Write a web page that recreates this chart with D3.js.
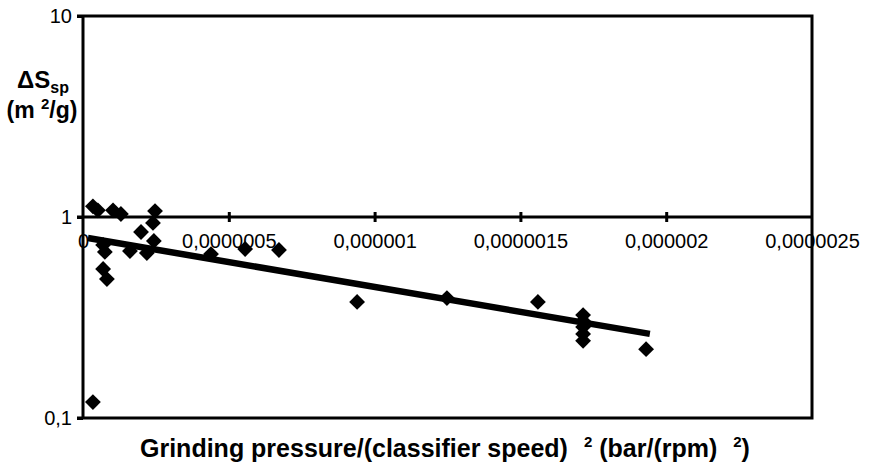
<!DOCTYPE html>
<html>
<head>
<meta charset="utf-8">
<script src="https://cdn.jsdelivr.net/npm/d3@7"></script>
<style>
    body { margin: 0; background: #fff; }
    text { font-family: "Liberation Sans", Arial, sans-serif; fill: #000; }
</style>
</head>
<body>
<div id="chart"></div>
<script>
// measured points: grinding pressure / (classifier speed)^2 vs delta S_sp
const pressure = [
    3.4e-8, 5.1e-8, 1.03e-7, 1.30e-7, 2.47e-7, 2.40e-7, 1.99e-7, 2.43e-7,
    6.9e-8, 7.5e-8, 1.61e-7, 2.19e-7, 6.9e-8, 8.2e-8, 3.4e-8,
    4.39e-7, 5.56e-7, 6.72e-7, 9.40e-7, 1.248e-6, 1.560e-6,
    1.715e-6, 1.715e-6, 1.715e-6, 1.715e-6, 1.715e-6, 1.931e-6
];
const deltaS = [
    1.13, 1.08, 1.08, 1.035, 1.07, 0.934, 0.842, 0.760,
    0.726, 0.670, 0.677, 0.662, 0.551, 0.491, 0.120,
    0.654, 0.693, 0.685, 0.378, 0.395, 0.378,
    0.325, 0.304, 0.284, 0.262, 0.242, 0.220
];

// exponential trendline, start and end
const trendX = [1.7e-8, 1.944e-6];
const trendY = [0.786, 0.262];

const xTicks = [0, 5e-7, 1e-6, 1.5e-6, 2e-6, 2.5e-6];
const xTickLabels = ["0", "0,0000005", "0,000001", "0,0000015", "0,000002", "0,0000025"];
const yTicks = [0.1, 1, 10];
const yTickLabels = ["0,1", "1", "10"];

const width = 873, height = 467;
const plotLeft = 83, plotRight = 812, plotTop = 16, plotBottom = 418;

const svg = d3.select("#chart").append("svg")
    .attr("width", width)
    .attr("height", height);

const x = d3.scaleLinear().domain([0, 2.5e-6]).range([plotLeft, plotRight]);
const y = d3.scaleLog().domain([0.1, 10]).range([plotBottom, plotTop]);

// frame (top, right, bottom)
svg.append("path")
    .attr("d", `M${plotLeft - 6},${plotTop}H${plotRight}V${plotBottom}H${plotLeft - 6}`)
    .attr("fill", "none")
    .attr("stroke", "#000")
    .attr("stroke-width", 3);

const yAxis = d3.axisLeft(y)
    .tickValues(yTicks)
    .tickFormat((d, i) => yTickLabels[i])
    .tickSize(6)
    .tickPadding(5);

const gy = svg.append("g")
    .attr("transform", `translate(${plotLeft},0)`)
    .call(yAxis);
gy.select(".domain").attr("stroke-width", 3).attr("d", `M0,${plotTop}V${plotBottom}`);
gy.selectAll(".tick line").attr("stroke-width", 3);
gy.selectAll(".tick text")
    .attr("font-size", 20)
    .attr("font-family", "Liberation Sans, Arial, sans-serif");

// x axis crosses at y = 1
const xAxis = d3.axisBottom(x)
    .tickValues(xTicks)
    .tickFormat((d, i) => xTickLabels[i])
    .tickSize(0)
    .tickPadding(17);

const gx = svg.append("g")
    .attr("transform", `translate(0,${y(1)})`)
    .call(xAxis);
gx.select(".domain").attr("stroke-width", 3).attr("d", `M${plotLeft - 6},0H${plotRight}`);
gx.selectAll(".tick text")
    .attr("font-size", 20)
    .attr("font-family", "Liberation Sans, Arial, sans-serif");
gx.selectAll(".tick")
    .filter(d => d > 0 && d < 2.5e-6)
    .append("line")
    .attr("y1", -5)
    .attr("y2", 5)
    .attr("stroke", "#000")
    .attr("stroke-width", 3);

// points
const diamond = d3.symbol(d3.symbolSquare, 125);
svg.append("g")
    .selectAll("path")
    .data(pressure.map((p, i) => [p, deltaS[i]]))
    .enter().append("path")
    .attr("d", diamond)
    .attr("transform", d => `translate(${x(d[0])},${y(d[1])}) rotate(45)`)
    .attr("fill", "#000");

// trendline
const line = d3.line()
    .x(d => x(d[0]))
    .y(d => y(d[1]));

svg.append("path")
    .datum(trendX.map((t, i) => [t, trendY[i]]))
    .attr("d", line)
    .attr("fill", "none")
    .attr("stroke", "#000")
    .attr("stroke-width", 6.5);

// y title
const yTitle = svg.append("text")
    .attr("text-anchor", "middle")
    .attr("font-weight", "bold")
    .attr("font-size", 24)
    .attr("x", 43)
    .attr("y", 88);
yTitle.append("tspan").text("ΔS");
yTitle.append("tspan").attr("font-size", 16).attr("dy", 5).text("sp");

const yUnit = svg.append("text")
    .attr("text-anchor", "middle")
    .attr("font-weight", "bold")
    .attr("font-size", 23)
    .attr("x", 42)
    .attr("y", 118);
yUnit.append("tspan").text("(m ");
yUnit.append("tspan").attr("font-size", 15).attr("dy", -9).text("2");
yUnit.append("tspan").attr("dy", 9).text("/g)");

// x title
const xTitle = svg.append("text")
    .attr("x", 140)
    .attr("y", 457)
    .attr("font-weight", "bold")
    .attr("font-size", 25);
xTitle.append("tspan").text("Grinding pressure/(classifier speed)");
xTitle.append("tspan").attr("font-size", 15).attr("dx", 16).attr("dy", -10).text("2");
xTitle.append("tspan").attr("dy", 10).text(" (bar/(rpm)");
xTitle.append("tspan").attr("font-size", 15).attr("dx", 16).attr("dy", -10).text("2");
xTitle.append("tspan").attr("dy", 10).text(")");
</script>
</body>
</html>
